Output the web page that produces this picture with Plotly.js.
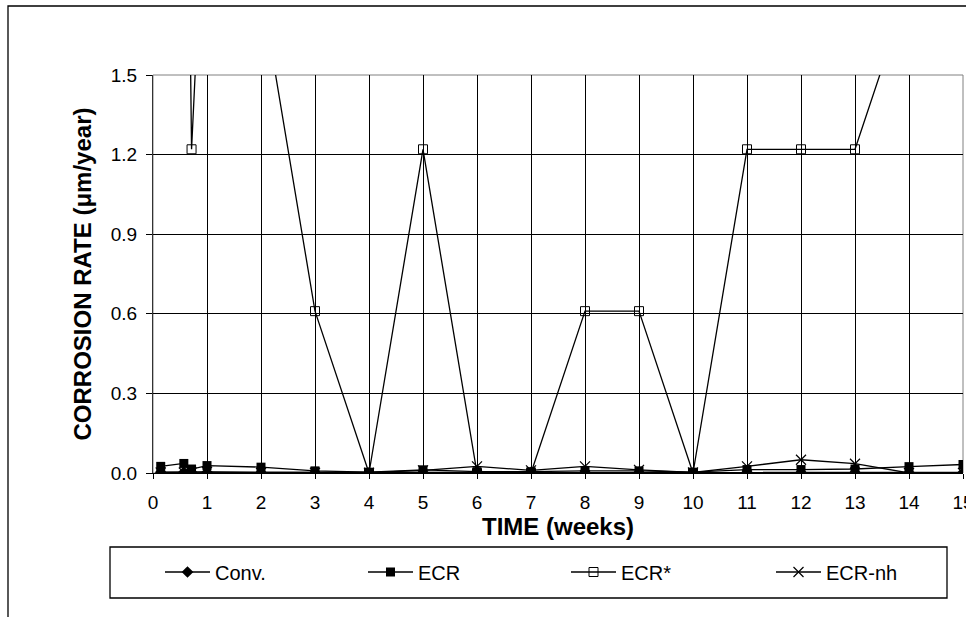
<!DOCTYPE html>
<html>
<head>
<meta charset="utf-8">
<script src="https://cdn.plot.ly/plotly-3.0.1.min.js"></script>
<style>
html,body{margin:0;padding:0;background:#fff;}
#chart{width:966px;height:617px;}
</style>
</head>
<body>
<div id="chart"></div>
<script>
// Time in weeks (days 1, 4, 5, then weekly)
var weeks = [0.143, 0.571, 0.714, 1, 2, 3, 4, 5, 6, 7, 8, 9, 10, 11, 12, 13, 14, 15];
var convRate = [0.003, 0.003, 0.003, 0.003, 0.002, 0.002, 0.001, 0.002, 0.002, 0.002, 0.002, 0.002, 0.001, 0.002, 0.002, 0.002, 0.002, 0.002];
var ecrRate = [0.025, 0.036, 0.015, 0.028, 0.022, 0.008, 0.003, 0.012, 0.005, 0.005, 0.008, 0.008, 0.003, 0.013, 0.013, 0.015, 0.024, 0.032];
var ecrStarRate = [null, 3.66, 1.22, 2.44, 1.83, 0.61, 0, 1.22, 0, 0, 0.61, 0.61, 0, 1.22, 1.22, 1.22, 1.83, 1.83];
var ecrNhRate = [0.002, 0.002, 0.002, 0.004, 0.001, 0.001, 0.001, 0.01, 0.025, 0.01, 0.025, 0.012, 0.002, 0.025, 0.05, 0.035, 0.0, 0.0];

var seriesNames = ["Conv.", "ECR", "ECR*", "ECR-nh"];
var xTickVals = [0,1,2,3,4,5,6,7,8,9,10,11,12,13,14,15];
var yTickVals = [0, 0.3, 0.6, 0.9, 1.2, 1.5];

var W = 966, H = 617;
var L = 153, R = 3, T = 75, B = 144;
var pw = W - L - R, ph = H - T - B;
function px(p){ return (p - L) / pw; }
function py(p){ return (H - B - p) / ph; }

var lineStyle = {color: '#000', width: 1.3};
var traces = [
  {x: weeks, y: convRate, name: seriesNames[0], mode: 'lines+markers', line: lineStyle, legend: 'legend',
   marker: {symbol: 'diamond', size: 9, color: '#000'}},
  {x: weeks, y: ecrRate, name: seriesNames[1], mode: 'lines+markers', line: lineStyle, legend: 'legend2',
   marker: {symbol: 'square', size: 9, color: '#000'}},
  {x: weeks, y: ecrStarRate, name: seriesNames[2], mode: 'lines+markers', line: lineStyle, legend: 'legend3',
   marker: {symbol: 'square-open', size: 9, color: '#000', line: {width: 1, color: '#000'}}},
  {x: weeks, y: ecrNhRate, name: seriesNames[3], mode: 'lines+markers', line: lineStyle, legend: 'legend4',
   marker: {symbol: 'x-thin-open', size: 10, color: '#000', line: {width: 1.2, color: '#000'}}}
];

var font = {family: 'Liberation Sans, Arial, sans-serif', color: '#000'};

function legendAt(xpix){
  return {
    orientation: 'h', x: px(xpix), xanchor: 'left', y: py(572), yanchor: 'middle',
    bgcolor: 'rgba(0,0,0,0)', borderwidth: 0,
    font: {family: font.family, size: 20, color: '#000'},
    itemwidth: 45
  };
}

var layout = {
  width: W, height: H,
  margin: {l: L, r: R, t: T, b: B, pad: 0},
  paper_bgcolor: '#fff', plot_bgcolor: '#fff',
  font: {family: font.family, color: '#000', size: 19},
  showlegend: true,
  xaxis: {
    range: [0, 15], tickvals: xTickVals, ticktext: xTickVals.map(String),
    showgrid: true, gridcolor: '#000', gridwidth: 1,
    showline: true, linecolor: '#000', linewidth: 1,
    zeroline: false, ticks: 'outside', ticklen: 5, tickcolor: '#000',
    ticklabelstandoff: 7, ticklabeloverflow: 'allow',
    tickfont: {family: font.family, size: 19, color: '#000'},
    title: {text: '<b>TIME (weeks)</b>', font: {family: font.family, size: 24, color: '#000'}, standoff: 3},
    automargin: false, fixedrange: true
  },
  yaxis: {
    range: [0, 1.5], tickvals: yTickVals, tickformat: '.1f',
    showgrid: true, gridcolor: '#000', gridwidth: 1,
    showline: true, linecolor: '#333', linewidth: 1,
    zeroline: false, ticks: 'outside', ticklen: 6, tickcolor: '#000',
    ticklabelstandoff: 5,
    tickfont: {family: font.family, size: 19, color: '#000'},
    title: {text: '<b>CORROSION RATE (μm/year)</b>', font: {family: font.family, size: 24, color: '#000'}, standoff: 12},
    automargin: false, fixedrange: true
  },
  legend: legendAt(160),
  legend2: legendAt(363),
  legend3: legendAt(566),
  legend4: legendAt(771),
  shapes: [
    {type: 'rect', xref: 'paper', yref: 'paper', x0: px(8), x1: px(1000), y0: py(700), y1: py(6),
     line: {color: '#000', width: 1.3}, fillcolor: 'rgba(0,0,0,0)', layer: 'below'},
    {type: 'rect', xref: 'paper', yref: 'paper', x0: 0, x1: 1, y0: 0, y1: 1,
     line: {color: '#808080', width: 1}, fillcolor: 'rgba(0,0,0,0)', layer: 'below'},
    {type: 'rect', xref: 'paper', yref: 'paper', x0: px(110), x1: px(947), y0: py(598), y1: py(547),
     line: {color: '#000', width: 1.3}, fillcolor: 'rgba(0,0,0,0)', layer: 'below'}
  ]
};

Plotly.newPlot('chart', traces, layout, {displayModeBar: false, staticPlot: true});
</script>
</body>
</html>
